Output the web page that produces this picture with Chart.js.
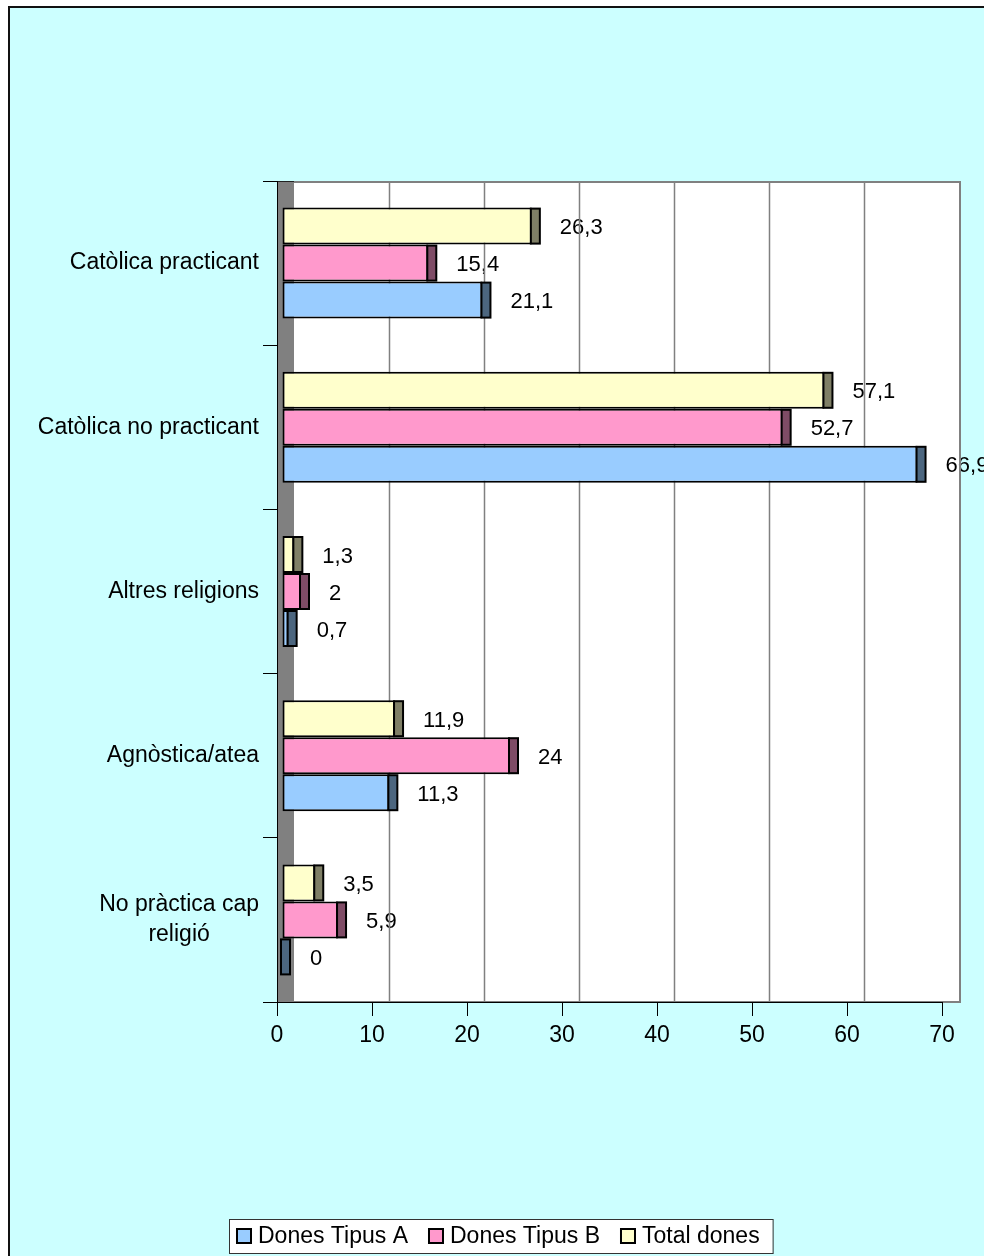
<!DOCTYPE html>
<html>
<head>
<meta charset="utf-8">
<script src="https://cdn.jsdelivr.net/npm/chart.js@4/dist/chart.umd.min.js"></script>
<style>
html,body{margin:0;padding:0;background:#fff;}
canvas{display:block;}
</style>
</head>
<body>
<canvas id="c" width="984" height="1256"></canvas>
<script>
// ---- data ----
const categories = ['Catòlica practicant', 'Catòlica no practicant', 'Altres religions', 'Agnòstica/atea', ['No pràctica cap', 'religió']];
const seriesNames = ['Dones Tipus A', 'Dones Tipus B', 'Total dones'];
const donesTipusA = [21.1, 66.9, 0.7, 11.3, 0];
const donesTipusB = [15.4, 52.7, 2, 24, 5.9];
const totalDones = [26.3, 57.1, 1.3, 11.9, 3.5];
const xTickMin = 0, xTickMax = 70, xTickStep = 10;

// ---- styles ----
const FONT = '"Liberation Sans", Arial, sans-serif';
const fills = ['#99CCFF', '#FF99CC', '#FFFFCC'];
const sides = ['#4C667F', '#7F4C66', '#7F7F66'];
const DEPTH = 17;   // back-wall offset
const BAR_SHIFT = 5;
const SIDE_W = 8;

function fmt(v) { return String(v).replace('.', ','); }

// datasets drawn top-to-bottom: Total, B, A
const seriesValues = [donesTipusA, donesTipusB, totalDones];
const order = [2, 1, 0];
const datasets = order.map(i => ({
  label: seriesNames[i],
  data: seriesValues[i],
  backgroundColor: fills[i],
  borderColor: '#000',
  borderWidth: 2,
  borderSkipped: false,
  inflateAmount: 0,
  sideColor: sides[i],
  categoryPercentage: 0.676,
  barPercentage: 1.0
}));

const bgPlugin = {
  id: 'bg',
  beforeDraw(chart) {
    const ctx = chart.ctx, ca = chart.chartArea;
    const xs = chart.scales.x;
    ctx.save();
    ctx.fillStyle = '#fff';
    ctx.fillRect(0, 0, chart.width, chart.height);
    ctx.fillStyle = '#CCFFFF';
    ctx.fillRect(8, 6, chart.width, chart.height);
    ctx.strokeStyle = '#111';
    ctx.lineWidth = 2;
    ctx.beginPath();
    ctx.moveTo(9, chart.height); ctx.lineTo(9, 7); ctx.lineTo(chart.width, 7);
    ctx.stroke();

    // back wall
    const x0 = xs.getPixelForValue(xTickMin);
    const x1 = xs.getPixelForValue(xTickMax);
    ctx.fillStyle = '#fff';
    ctx.fillRect(x0 + DEPTH, ca.top, x1 - x0, ca.bottom - ca.top);
    ctx.fillStyle = '#808080';
    ctx.fillRect(x0, ca.top, DEPTH, ca.bottom - ca.top);

    // value labels (behind gridlines)
    ctx.fillStyle = '#000';
    ctx.font = '22px ' + FONT;
    ctx.textAlign = 'left';
    ctx.textBaseline = 'middle';
    chart.data.datasets.forEach((ds, di) => {
      const meta = chart.getDatasetMeta(di);
      meta.data.forEach((el, i) => {
        const px = xs.getPixelForValue(ds.data[i]);
        ctx.fillText(fmt(ds.data[i]), px + BAR_SHIFT + SIDE_W + 20, el.y + 2);
      });
    });

    // gridlines on back wall
    ctx.strokeStyle = '#808080';
    ctx.lineWidth = 1.5;
    for (let v = xTickMin + xTickStep; v < xTickMax; v += xTickStep) {
      const gx = Math.round(xs.getPixelForValue(v) + DEPTH) + 0.5;
      ctx.beginPath(); ctx.moveTo(gx, ca.top); ctx.lineTo(gx, ca.bottom); ctx.stroke();
    }
    // wall frame
    ctx.lineWidth = 2;
    ctx.beginPath();
    ctx.moveTo(x0 + DEPTH, ca.top + 1); ctx.lineTo(x1 + DEPTH + 1, ca.top + 1);
    ctx.lineTo(x1 + DEPTH + 1, ca.bottom); ctx.lineTo(x0, ca.bottom);
    ctx.stroke();
    ctx.strokeStyle = '#222';
    ctx.lineWidth = 1;
    ctx.beginPath(); ctx.moveTo(x0, ca.top + 0.5); ctx.lineTo(x0 + DEPTH, ca.top + 0.5); ctx.stroke();
    ctx.restore();
  },
  beforeDatasetsDraw(chart) {
    chart.ctx.save();
    chart.ctx.translate(BAR_SHIFT, 0);
  },
  afterDatasetsDraw(chart) {
    const ctx = chart.ctx;
    chart.data.datasets.forEach((ds, di) => {
      const meta = chart.getDatasetMeta(di);
      meta.data.forEach(el => {
        const top = el.y - el.height / 2;
        ctx.fillStyle = ds.sideColor;
        ctx.fillRect(el.x - 1, top + 1, SIDE_W + 1, el.height - 2);
        ctx.strokeStyle = '#000';
        ctx.lineWidth = 2;
        ctx.strokeRect(el.x - 1, top + 1, SIDE_W + 1, el.height - 2);
      });
    });
    ctx.restore();
  },
  afterDraw(chart) {
    const ctx = chart.ctx, ca = chart.chartArea;
    const ys = chart.scales.y;
    ctx.save();
    // category labels
    ctx.fillStyle = '#000';
    ctx.font = '23px ' + FONT;
    ctx.textAlign = 'center';
    ctx.textBaseline = 'middle';
    const right = ca.left - 18;
    categories.forEach((lab, i) => {
      const lines = Array.isArray(lab) ? lab : [lab];
      const maxW = Math.max(...lines.map(l => ctx.measureText(l).width));
      const cx = right - maxW / 2;
      const cy = ys.getPixelForValue(i);
      lines.forEach((l, j) => {
        ctx.fillText(l, cx, cy + (j - (lines.length - 1) / 2) * 30);
      });
    });

    // legend (series order A, B, Total)
    const box = 16, gapBT = 6, gapItems = 20, padL = 7, padR = 13;
    const widths = seriesNames.map(n => ctx.measureText(n).width);
    const content = widths.reduce((a, w) => a + box + gapBT + w, 0) + gapItems * (seriesNames.length - 1);
    const fw = content + padL + padR;
    const fl = Math.round(501 - fw / 2);
    const ft = 1219, fh = 34;
    ctx.fillStyle = '#fff';
    ctx.fillRect(fl, ft, fw, fh);
    ctx.strokeStyle = '#333';
    ctx.lineWidth = 1;
    ctx.strokeRect(fl + 0.5, ft + 0.5, fw, fh);
    let lx = fl + padL;
    const cyL = ft + fh / 2;
    ctx.textAlign = 'left';
    seriesNames.forEach((n, i) => {
      ctx.fillStyle = fills[i];
      ctx.fillRect(lx, cyL - box / 2, box, box);
      ctx.strokeStyle = '#000';
      ctx.lineWidth = 2;
      ctx.strokeRect(lx + 1, cyL - box / 2 + 1, box - 2, box - 2);
      ctx.fillStyle = '#000';
      ctx.fillText(n, lx + box + gapBT, cyL + 1);
      lx += box + gapBT + widths[i] + gapItems;
    });
    ctx.restore();
  }
};

new Chart(document.getElementById('c'), {
  type: 'bar',
  data: { labels: categories, datasets: datasets },
  options: {
    indexAxis: 'y',
    responsive: false,
    animation: false,
    events: [],
    layout: { padding: { left: 0, right: 42, top: 181, bottom: 204 } },
    plugins: { legend: { display: false }, tooltip: { enabled: false } },
    scales: {
      x: {
        type: 'linear',
        min: xTickMin, max: xTickMax,
        ticks: { stepSize: xTickStep, color: '#000', font: { family: FONT, size: 23 }, padding: 6 },
        grid: { drawOnChartArea: false, drawTicks: true, tickLength: 14, color: '#000', lineWidth: 1 },
        border: { color: '#000', width: 1 },
        afterFit(s) { s.height = 50; }
      },
      y: {
        type: 'category',
        offset: true,
        ticks: { display: false },
        grid: { offset: true, drawOnChartArea: false, drawTicks: true, tickLength: 14, color: '#000', lineWidth: 1 },
        border: { color: '#000', width: 1 },
        afterFit(s) { s.width = 277; }
      }
    }
  },
  plugins: [bgPlugin]
});
</script>
</body>
</html>
